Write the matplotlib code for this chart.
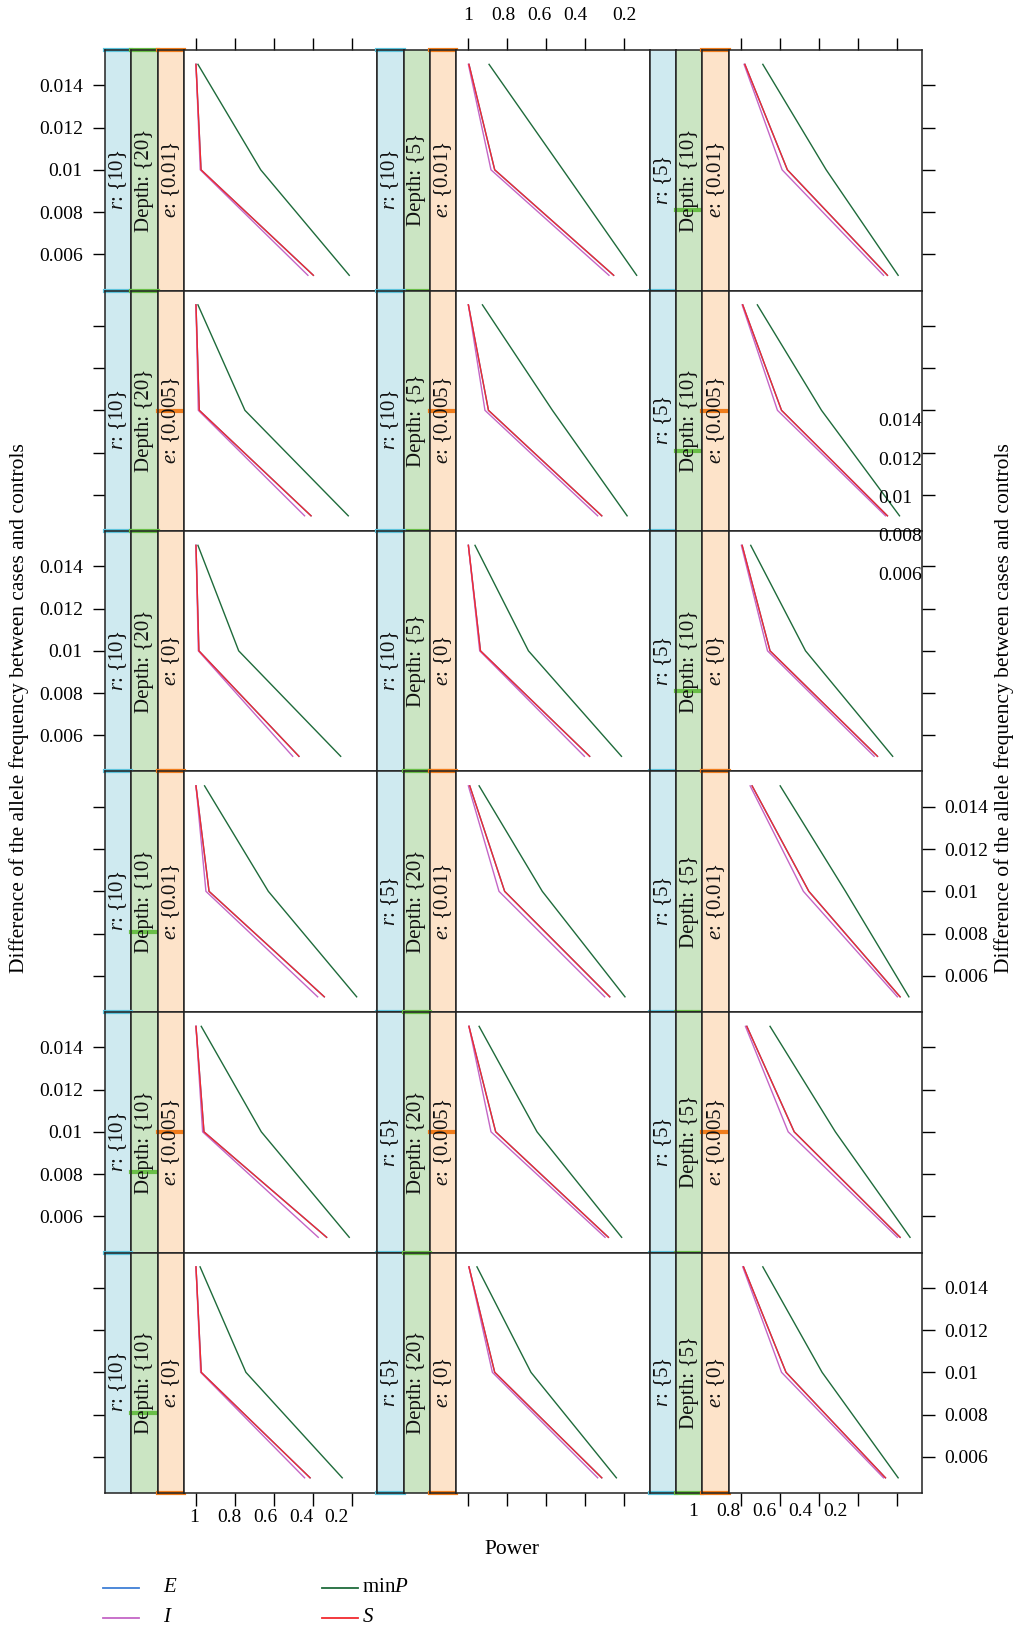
import matplotlib
matplotlib.use("Agg")
import matplotlib.pyplot as plt

plt.rcParams['font.family'] = ['Liberation Serif', 'DejaVu Serif']
plt.rcParams['mathtext.fontset'] = 'custom'
plt.rcParams['mathtext.rm'] = 'Liberation Serif'
plt.rcParams['mathtext.it'] = 'Liberation Serif:italic'

# difference of allele frequency (y) at which power was computed
diffs = [0.015, 0.010, 0.005]

# panel conditioning values, row by row (top to bottom), 3 columns
r_vals = [10, 10, 5,
          10, 10, 5,
          10, 10, 5,
          10, 5, 5,
          10, 5, 5,
          10, 5, 5]
depth_vals = [20, 5, 10,
              20, 5, 10,
              20, 5, 10,
              10, 20, 5,
              10, 20, 5,
              10, 20, 5]
e_vals = [0.01, 0.01, 0.01,
          0.005, 0.005, 0.005,
          0, 0, 0,
          0.01, 0.01, 0.01,
          0.005, 0.005, 0.005,
          0, 0, 0]
e_text = ['0.01', '0.01', '0.01',
          '0.005', '0.005', '0.005',
          '0', '0', '0',
          '0.01', '0.01', '0.01',
          '0.005', '0.005', '0.005',
          '0', '0', '0']

# power at diffs 0.015, 0.01, 0.005 for every panel
power_S = [
    [1.000, 0.974, 0.398], [0.997, 0.865, 0.255], [0.979, 0.761, 0.248],
    [1.000, 0.983, 0.410], [1.000, 0.897, 0.316], [0.990, 0.791, 0.248],
    [1.000, 0.985, 0.472], [1.000, 0.938, 0.378], [0.993, 0.850, 0.299],
    [1.000, 0.933, 0.342], [0.993, 0.814, 0.275], [0.942, 0.651, 0.183],
    [1.000, 0.959, 0.330], [0.997, 0.860, 0.282], [0.969, 0.726, 0.183],
    [1.000, 0.973, 0.415], [0.997, 0.865, 0.316], [0.986, 0.768, 0.258],
]
power_I = [
    [1.000, 0.978, 0.426], [1.000, 0.884, 0.279], [0.983, 0.788, 0.268],
    [1.000, 0.988, 0.443], [1.000, 0.915, 0.337], [0.993, 0.812, 0.258],
    [1.000, 0.988, 0.504], [1.000, 0.942, 0.405], [0.997, 0.863, 0.316],
    [1.000, 0.949, 0.376], [1.000, 0.843, 0.301], [0.952, 0.679, 0.197],
    [1.000, 0.966, 0.373], [0.997, 0.884, 0.299], [0.976, 0.757, 0.197],
    [1.000, 0.976, 0.443], [0.997, 0.877, 0.337], [0.990, 0.791, 0.268],
]
power_minP = [
    [0.990, 0.668, 0.214], [0.894, 0.515, 0.137], [0.887, 0.562, 0.193],
    [0.990, 0.749, 0.219], [0.928, 0.569, 0.186], [0.915, 0.586, 0.186],
    [0.990, 0.781, 0.258], [0.966, 0.692, 0.215], [0.949, 0.668, 0.221],
    [0.956, 0.629, 0.176], [0.945, 0.621, 0.197], [0.798, 0.463, 0.138],
    [0.973, 0.665, 0.214], [0.945, 0.648, 0.214], [0.850, 0.515, 0.132],
    [0.979, 0.744, 0.250], [0.956, 0.679, 0.241], [0.887, 0.583, 0.193],
]
# E coincides with S (hidden beneath it)
power_E = power_S

series = [('E', power_E, '#3f7fd6', '$E$'),
          ('I', power_I, '#c466c6', '$I$'),
          ('minP', power_minP, '#1f6b3b', 'min$P$'),
          ('S', power_S, '#f22a2e', '$S$')]

xticks = [1, 0.8, 0.6, 0.4, 0.2]
yticks = [0.014, 0.012, 0.010, 0.008, 0.006]
ytick_labels = ['0.014', '0.012', '0.01', '0.008', '0.006']
xtick_labels = ['1', '0.8', '0.6', '0.4', '0.2']

W, H = 1018, 1627
fig = plt.figure(figsize=(W / 100, H / 100), dpi=100)


def px_axes(x, y, w, h):
    return fig.add_axes([x / W, 1 - (y + h) / H, w / W, h / H])


def px_text(x, y, s, **kw):
    fig.text(x / W, 1 - y / H, s, **kw)


col_x0, col_w, strip_w = 105, 272.4, 26.33
plot_w = col_w - 3 * strip_w
row_y0, row_h = 50, 240.5
ylim = (0.00428, 0.01568)
xlim = (1.0615, 1.0615 - plot_w / 195.0)
fs = 14
fs_lab = 15.5
fs_strip = 15

strip_style = [('r', '#cfeaf0', '#5cc3dc', (5, 10)),
               ('Depth', '#cbe5c3', '#69be47', (5, 20)),
               ('e', '#fde3c9', '#f07d1d', (0, 0.01))]

for i in range(6):
    for j in range(3):
        k = i * 3 + j
        x0 = col_x0 + j * col_w
        y0 = row_y0 + i * row_h

        # frame axes carrying the y ticks
        fax = px_axes(x0, y0, col_w, row_h)
        fax.patch.set_visible(False)
        for sp in fax.spines.values():
            sp.set_visible(False)
        fax.set_ylim(*ylim)
        fax.set_xticks([])
        fax.set_yticks(yticks)
        fax.set_yticklabels(ytick_labels)
        fax.tick_params(axis='y', direction='out', length=9, width=1, pad=7,
                        labelsize=fs, left=(j == 0), right=(j == 2),
                        labelleft=(j == 0 and i in (0, 2, 4)),
                        labelright=(j == 2 and i in (3, 5)))

        vals = [r_vals[k], depth_vals[k], e_vals[k]]
        labels = ['$r$: {%d}' % r_vals[k], 'Depth: {%d}' % depth_vals[k],
                  '$e$: {%s}' % e_text[k]]
        for s, (name, fc, mc, rng) in enumerate(strip_style):
            sax = px_axes(x0 + s * strip_w, y0, strip_w, row_h)
            sax.set_facecolor(fc)
            sax.set_xlim(0, 1)
            sax.set_ylim(0, 1)
            sax.set_xticks([])
            sax.set_yticks([])
            frac = (vals[s] - rng[0]) / (rng[1] - rng[0])
            sax.axhline(frac, color=mc, lw=3, clip_on=False, zorder=1)
            sax.text(0.5, 0.46, labels[s], rotation=90, ha='center', va='center',
                     fontsize=fs_strip, color='#111111')
            for sp in sax.spines.values():
                sp.set_linewidth(1.1)
                sp.set_color('#222222')

        ax = px_axes(x0 + 3 * strip_w, y0, plot_w, row_h)
        for name, data, color, lab in series:
            ax.plot(data[k], diffs, color=color, lw=1.0)
        ax.set_xlim(*xlim)
        ax.set_ylim(*ylim)
        ax.set_xticks(xticks)
        ax.set_yticks([])
        ax.tick_params(axis='x', direction='out', length=9, width=1,
                       top=(i == 0), bottom=(i == 5),
                       labeltop=False, labelbottom=False)
        for sp in ax.spines.values():
            sp.set_linewidth(1.1)
            sp.set_color('#222222')

# tick labels as they are placed in the original figure
for n, lab in enumerate(xtick_labels):
    px_text(194 + 35.7 * n, 1518, lab, ha='center', va='center', fontsize=fs)
    px_text(693 + 35.7 * n, 1512, lab, ha='center', va='center', fontsize=fs)
top_x = [468, 503.5, 539.5, 575.5, 624.5]
for n, lab in enumerate(xtick_labels):
    px_text(top_x[n], 16, lab, ha='center', va='center', fontsize=fs)
for n, lab in enumerate(ytick_labels):
    px_text(878, 422 + 38.3 * n, lab, ha='left', va='center', fontsize=fs)

ylab = 'Difference of the allele frequency between cases and controls'
px_text(19, 708, ylab, rotation=90, ha='center', va='center', fontsize=fs_lab)
px_text(1004, 708, ylab, rotation=90, ha='center', va='center', fontsize=fs_lab)
px_text(512, 1550, 'Power', ha='center', va='center', fontsize=fs_lab)

# legend
leg_pos = [(103, 1588), (103, 1618), (322, 1588), (322, 1618)]
for (name, data, color, lab), (lx, ly) in zip(series, leg_pos):
    fig.add_artist(plt.Line2D([lx / W, (lx + 36) / W], [1 - ly / H, 1 - ly / H],
                              color=color, lw=1.3, transform=fig.transFigure))
    tx = lx + 60 if lx < 200 else lx + 40
    px_text(tx, ly, lab, ha='left', va='center', fontsize=fs_strip)

fig.savefig('out.png', dpi=100)
